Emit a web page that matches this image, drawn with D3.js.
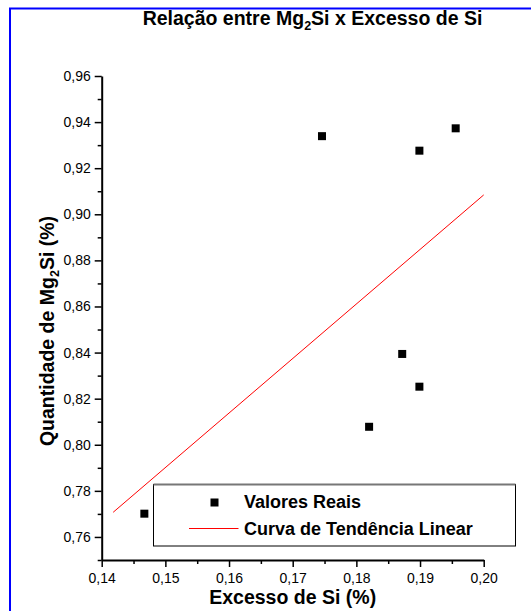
<!DOCTYPE html>
<html>
<head>
<meta charset="utf-8">
<script src="https://cdn.jsdelivr.net/npm/d3@7"></script>
<style>
  body { margin: 0; background: #fff; }
  svg { display: block; font-family: "Liberation Sans", Arial, sans-serif; }
  .axis path, .axis line { stroke: #000; }
  .axis path { stroke-width: 2; }
  .axis line { stroke-width: 1.5; }
  .axis text { font-size: 14px; fill: #000; }
</style>
</head>
<body>
<div id="chart"></div>
<script>
// Valores Reais
var excessoSi = [0.1467, 0.1746, 0.1899, 0.1956, 0.1872, 0.1899, 0.1820];
var mg2si = [0.7701, 0.9339, 0.9276, 0.9373, 0.8394, 0.8252, 0.8078];

// Curva de Tendência Linear (end points)
var trendX = [0.1418, 0.2000];
var trendY = [0.7707, 0.9084];

var xTicks = [0.14, 0.15, 0.16, 0.17, 0.18, 0.19, 0.20];
var xMinor = [0.145, 0.155, 0.165, 0.175, 0.185, 0.195];
var yTicks = [0.76, 0.78, 0.80, 0.82, 0.84, 0.86, 0.88, 0.90, 0.92, 0.94, 0.96];
var yMinor = [0.75, 0.77, 0.79, 0.81, 0.83, 0.85, 0.87, 0.89, 0.91, 0.93, 0.95];

var width = 531, height = 611;

var x = d3.scaleLinear().domain([0.14, 0.20]).range([101.7, 483.7]);
var y = d3.scaleLinear().domain([0.75, 0.96]).range([560, 76]);

var fmt = function(d) { return d3.format('.2f')(d).replace('.', ','); };

var svg = d3.select('#chart').append('svg')
    .attr('width', width)
    .attr('height', height);

// blue frame
svg.append('path')
    .attr('d', 'M10,' + height + 'V8.5H' + width)
    .attr('fill', 'none')
    .attr('stroke', '#00f')
    .attr('stroke-width', 2);

// title
var title = svg.append('text')
    .attr('x', 312.5)
    .attr('y', 25)
    .attr('text-anchor', 'middle')
    .style('font-size', '19.5px')
    .style('font-weight', 'bold');
title.append('tspan').text('Relação entre Mg');
title.append('tspan').attr('dy', 4.5).style('font-size', '12.5px').text('2');
title.append('tspan').attr('dy', -4.5).text('Si x Excesso de Si');

// minor ticks
svg.append('g')
    .attr('class', 'axis')
    .attr('transform', 'translate(' + x.range()[0] + ',0)')
    .call(d3.axisLeft(y).tickValues(yMinor).tickSize(4).tickSizeOuter(0).tickFormat(''))
    .select('.domain').remove();
svg.append('g')
    .attr('class', 'axis')
    .attr('transform', 'translate(0,' + y.range()[0] + ')')
    .call(d3.axisBottom(x).tickValues(xMinor).tickSize(4).tickSizeOuter(0).tickFormat(''))
    .select('.domain').remove();

// major axes
svg.append('g')
    .attr('class', 'axis')
    .attr('transform', 'translate(' + x.range()[0] + ',0)')
    .call(d3.axisLeft(y).tickValues(yTicks).tickSize(7).tickPadding(4).tickSizeOuter(0).tickFormat(fmt));
svg.append('g')
    .attr('class', 'axis')
    .attr('transform', 'translate(0,' + y.range()[0] + ')')
    .call(d3.axisBottom(x).tickValues(xTicks).tickSize(7).tickPadding(6).tickSizeOuter(0).tickFormat(fmt));

// axis titles
svg.append('text')
    .attr('x', (x.range()[0] + x.range()[1]) / 2)
    .attr('y', 604)
    .attr('text-anchor', 'middle')
    .style('font-size', '19.5px')
    .style('font-weight', 'bold')
    .text('Excesso de Si (%)');

var yTitle = svg.append('text')
    .attr('transform', 'translate(54,331) rotate(-90)')
    .attr('text-anchor', 'middle')
    .style('font-size', '19.5px')
    .style('font-weight', 'bold');
yTitle.append('tspan').text('Quantidade de Mg');
yTitle.append('tspan').attr('dy', 4.5).style('font-size', '12.5px').text('2');
yTitle.append('tspan').attr('dy', -4.5).text('Si (%)');

// trend line
var line = d3.line()
    .x(function(d) { return x(d[0]); })
    .y(function(d) { return y(d[1]); });

svg.append('path')
    .attr('d', line(d3.zip(trendX, trendY)))
    .attr('fill', 'none')
    .attr('stroke', '#f00')
    .attr('stroke-width', 1);

// points
svg.selectAll('rect.pt')
    .data(d3.zip(excessoSi, mg2si))
    .enter().append('rect')
    .attr('class', 'pt')
    .attr('x', function(d) { return x(d[0]) - 4; })
    .attr('y', function(d) { return y(d[1]) - 4; })
    .attr('width', 8)
    .attr('height', 8)
    .attr('fill', '#000');

// legend
var lg = svg.append('g');
lg.append('rect')
    .attr('x', 153.5)
    .attr('y', 484.5)
    .attr('width', 362)
    .attr('height', 61.5)
    .attr('fill', '#fff')
    .attr('stroke', '#000')
    .attr('stroke-width', 1);
lg.append('line')
    .attr('x1', 153.5).attr('x2', 515.5)
    .attr('y1', 484.5).attr('y2', 484.5)
    .attr('stroke', '#777')
    .attr('stroke-width', 2);
lg.append('rect')
    .attr('x', 210.5).attr('y', 498.5)
    .attr('width', 8).attr('height', 8)
    .attr('fill', '#000');
lg.append('line')
    .attr('x1', 189).attr('x2', 238.5)
    .attr('y1', 528.5).attr('y2', 528.5)
    .attr('stroke', '#f00')
    .attr('stroke-width', 1);
lg.append('text')
    .attr('x', 244).attr('y', 508)
    .style('font-size', '18px')
    .style('font-weight', 'bold')
    .text('Valores Reais');
lg.append('text')
    .attr('x', 244).attr('y', 535)
    .style('font-size', '18px')
    .style('font-weight', 'bold')
    .text('Curva de Tendência Linear');
</script>
</body>
</html>
